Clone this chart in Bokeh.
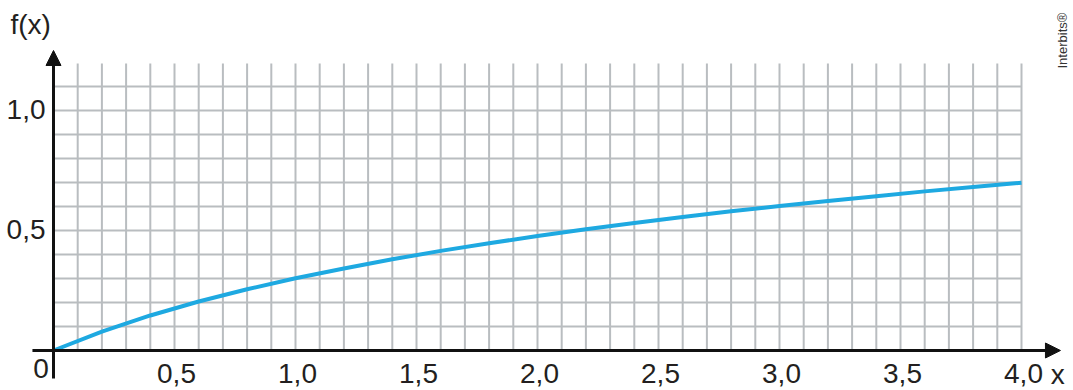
import numpy as np
from bokeh.plotting import figure
from bokeh.models import Range1d, Arrow, NormalHead
from bokeh.core.properties import value
from bokeh.embed import file_html
from bokeh.resources import INLINE

# ---- data ----
x_vals = [0.0, 0.2, 0.4, 0.6, 0.8, 1.0, 1.2, 1.4, 1.6, 1.8, 2.0,
          2.2, 2.4, 2.6, 2.8, 3.0, 3.2, 3.4, 3.6, 3.8, 4.0]
f_vals = [0.0, 0.079, 0.146, 0.204, 0.255, 0.301, 0.342, 0.380, 0.415, 0.447, 0.477,
          0.505, 0.531, 0.556, 0.580, 0.602, 0.623, 0.643, 0.663, 0.681, 0.699]

x_ticks = [0.5, 1.0, 1.5, 2.0, 2.5, 3.0, 3.5, 4.0]
x_tick_labels = ["0,5", "1,0", "1,5", "2,0", "2,5", "3,0", "3,5", "4,0"]
y_ticks = [0.5, 1.0]
y_tick_labels = ["0,5", "1,0"]

grid_step = 0.1
x_max = 4.0
y_grid_max = 1.1
y_grid_top = 1.196

FONT = value("Liberation Sans")
TXT = "#231f20"

W, H = 1073, 390
p = figure(width=W, height=H, output_backend="svg", toolbar_location=None,
           x_range=Range1d(-0.21901, 4.21488), y_range=Range1d(-0.16667, 1.45833),
           min_border=0, min_border_left=0, min_border_right=0,
           min_border_top=0, min_border_bottom=0)
p.axis.visible = False
p.grid.visible = False
p.outline_line_color = None
p.background_fill_color = "white"
p.border_fill_color = "white"

# grid
gx = np.round(np.arange(grid_step, x_max + 1e-9, grid_step), 3)
gy = np.round(np.arange(grid_step, y_grid_max + 1e-9, grid_step), 3)
p.segment(x0=gx, y0=np.zeros_like(gx), x1=gx, y1=np.full_like(gx, y_grid_top),
          line_color="#b9bdc0", line_width=2)
p.segment(x0=np.zeros_like(gy), y0=gy, x1=np.full_like(gy, x_max), y1=gy,
          line_color="#b9bdc0", line_width=2)

# curve
p.line(x_vals, f_vals, line_color="#1ea9e1", line_width=4)

# axes with arrows
p.add_layout(Arrow(x_start=-0.087, y_start=0, x_end=4.161, y_end=0,
                   line_color="#111111", line_width=3,
                   end=NormalHead(size=15, fill_color="#111111", line_color="#111111", line_width=1)))
p.add_layout(Arrow(x_start=0, y_start=-0.117, x_end=0, y_end=1.25,
                   line_color="#111111", line_width=3,
                   end=NormalHead(size=15, fill_color="#111111", line_color="#111111", line_width=1)))

# tick labels
p.text(x=x_ticks, y=[0] * len(x_ticks), text=x_tick_labels, text_font=FONT,
       text_font_size="28px", text_color=TXT, text_align="center",
       text_baseline="alphabetic", x_offset=2, y_offset=23)
p.text(x=[-0.033] * len(y_ticks), y=y_ticks, text=y_tick_labels, text_font=FONT,
       text_font_size="28px", text_color=TXT, text_align="right",
       text_baseline="middle", y_offset=-1)

# origin, axis names
p.text(x=[-0.052], y=[-0.075], text=["0"], text_font=FONT, text_font_size="28px",
       text_color=TXT, text_align="center", text_baseline="alphabetic")
p.text(x=[-0.178], y=[1.36], text=["f(x)"], text_font=FONT, text_font_size="28px",
       text_color=TXT, text_align="left", text_baseline="alphabetic")
p.text(x=[4.15], y=[-0.098], text=["x"], text_font=FONT, text_font_size="28px",
       text_color=TXT, text_align="center", text_baseline="alphabetic")

# credit
p.text(x=[4.17], y=[1.175], text=["Interbits®"], text_font=FONT, text_font_size="13px",
       text_color="#333333", text_align="left", text_baseline="alphabetic", angle=np.pi / 2)

open("out.html", "w").write(file_html(p, INLINE))
